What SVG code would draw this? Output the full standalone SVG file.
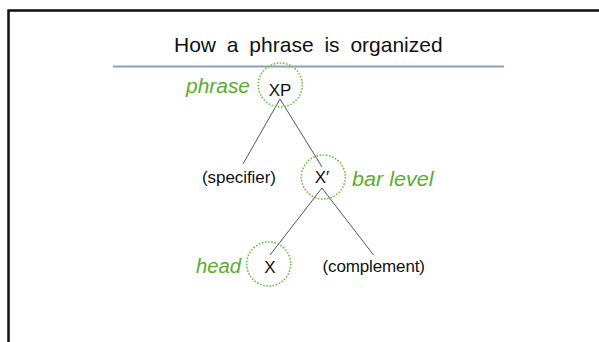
<svg xmlns="http://www.w3.org/2000/svg" width="599" height="342" viewBox="0 0 599 342">
  <style>
    .frame { stroke: #111; stroke-width: 2.5; fill: none; }
    .rule { stroke: #8c9dc6; stroke-width: 2; }
    .title { font-family: "Liberation Sans", "DejaVu Sans", sans-serif; font-size: 21px; word-spacing: 5px; fill: #111; }
    .lbl { font-family: "Liberation Sans", "DejaVu Sans", sans-serif; font-size: 17px; fill: #111; }
    .role { font-family: "Liberation Sans", "DejaVu Sans", sans-serif; font-size: 20px; font-style: italic; fill: #5aad2c; }
    .ring { fill: none; stroke: #6cbf3e; stroke-width: 1.6; stroke-dasharray: 1.6 1.6; }
    .edge { stroke: #555; stroke-width: 1; fill: none; }
  </style>
  <rect width="599" height="342" fill="#fff"/>
  <path class="frame" d="M8.5,342 V10.5 H599"/>
  <g id="title">
    <text class="title" x="174" y="51.5">How a phrase is organized</text>
    <line class="rule" x1="113" y1="66.5" x2="504" y2="66.5"/>
  </g>
  <g id="connectors">
    <line class="edge" x1="280" y1="99" x2="243" y2="164"/>
    <line class="edge" x1="280" y1="99" x2="322" y2="167"/>
    <line class="edge" x1="322" y1="188" x2="270" y2="255"/>
    <line class="edge" x1="322" y1="188" x2="373.5" y2="255"/>
  </g>
  <g id="node-XP">
    <circle class="ring" cx="280.3" cy="85" r="22"/>
    <text class="lbl" x="280" y="96" text-anchor="middle">XP</text>
    <text class="role" x="186" y="93" textLength="64" lengthAdjust="spacingAndGlyphs">phrase</text>
  </g>
  <g id="node-specifier">
    <text class="lbl" x="202" y="183" textLength="74" lengthAdjust="spacing">(specifier)</text>
  </g>
  <g id="node-Xbar">
    <circle class="ring" cx="323.3" cy="177" r="22"/>
    <text class="lbl" x="322" y="183" text-anchor="middle">X′</text>
    <text class="role" x="352" y="186" textLength="81.5" lengthAdjust="spacingAndGlyphs">bar level</text>
  </g>
  <g id="node-X">
    <circle class="ring" cx="268.7" cy="264" r="22"/>
    <text class="lbl" x="270" y="272.5" text-anchor="middle">X</text>
    <text class="role" x="196" y="272.5" textLength="45" lengthAdjust="spacingAndGlyphs">head</text>
  </g>
  <g id="node-complement">
    <text class="lbl" x="322.5" y="272" textLength="102.5" lengthAdjust="spacing">(complement)</text>
  </g>
</svg>
